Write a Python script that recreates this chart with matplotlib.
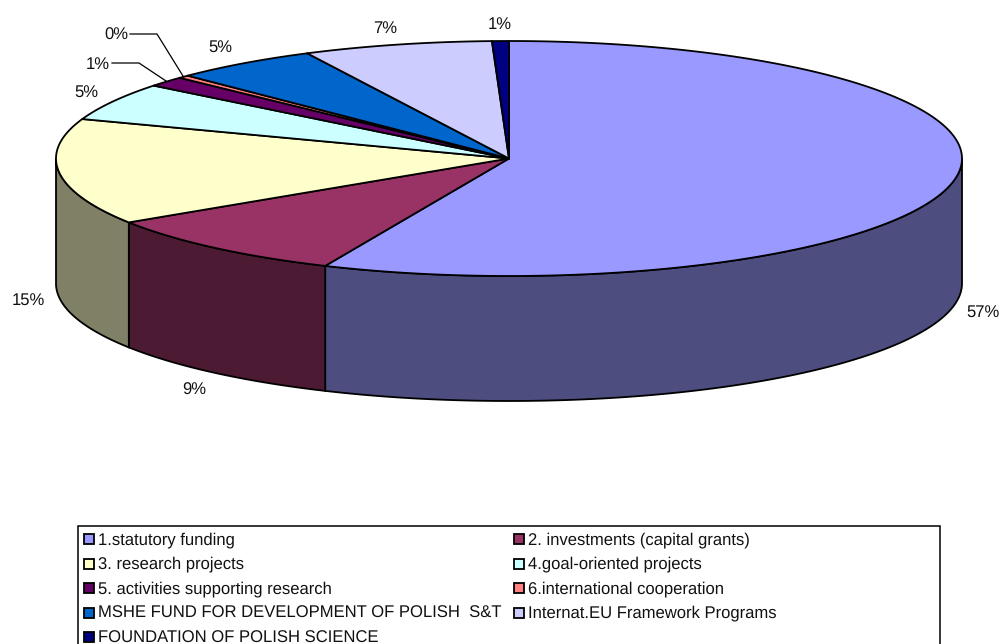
import matplotlib
matplotlib.use("Agg")
import matplotlib.pyplot as plt
from matplotlib.patches import Polygon, Rectangle
import numpy as np

plt.rcParams['font.family'] = ['Liberation Sans', 'DejaVu Sans']
plt.rcParams['text.hinting'] = 'no_hinting'

# Share of each funding source (percent)
categories = ["1.statutory funding", "2. investments (capital grants)", "3. research projects",
              "4.goal-oriented projects", "5. activities supporting research", "6.international cooperation",
              "MSHE FUND FOR DEVELOPMENT OF POLISH  S&T", "Internat.EU Framework Programs",
              "FOUNDATION OF POLISH SCIENCE"]
values = [56.65, 9.2, 14.6, 5.2, 1.4, 0.4, 5.2, 6.75, 0.6]
pct_labels = ["57%", "9%", "15%", "5%", "1%", "0%", "5%", "7%", "1%"]
colors = ["#9999FF", "#993366", "#FFFFCC", "#CCFFFF", "#660066", "#FF8080", "#0066CC", "#CCCCFF", "#000080"]

# layout in pixels
CX, CY, RX, RY, DEPTH = 509, 158.5, 453, 117.5, 125
label_pos = [(983, 312.5), (194, 390), (28, 300.5), (86, 92.5), (98, 64.5), (116, 35), (220, 47.5), (385, 28.5), (500, 24.5)]
leaders = {4: ([112, 139, 166], [63, 63, 81]), 5: ([130, 157, 183], [34, 34, 76])}


# Point on the rim, angle is clockwise from the top in degrees
def rim(angle, drop=0):
    t = np.radians(angle)
    return CX + RX * np.sin(t), CY - RY * np.cos(t) + drop


def shade(color):
    return tuple(c * 0.5 for c in matplotlib.colors.to_rgb(color))


fig = plt.figure(figsize=(10.01, 6.44), dpi=100)
ax = fig.add_axes([0, 0, 1, 1])
ax.set_xlim(0, 1001)
ax.set_ylim(644, 0)
ax.axis('off')

edges = np.concatenate([[0], np.cumsum(values)]) / sum(values) * 360

# Side wall, only the part of the rim that faces the viewer
for i, color in enumerate(colors):
    a0, a1 = max(edges[i], 90), min(edges[i + 1], 270)
    if a1 <= a0:
        continue
    angles = np.linspace(a0, a1, 100)
    top = [rim(a) for a in angles]
    bottom = [rim(a, DEPTH) for a in angles[::-1]]
    ax.add_patch(Polygon(top + bottom, closed=True, facecolor=shade(color), edgecolor='black', lw=1.3))

# Top face
for i, color in enumerate(colors):
    angles = np.linspace(edges[i], edges[i + 1], 200)
    pts = [(CX, CY)] + [rim(a) for a in angles]
    ax.add_patch(Polygon(pts, closed=True, facecolor=color, edgecolor='black', lw=1.3, joinstyle='round'))

# Percent labels and leader lines
for i, label in enumerate(pct_labels):
    ax.text(label_pos[i][0], label_pos[i][1], label, fontsize=12, ha='center', va='center', color='#111111')
for xs, ys in leaders.values():
    ax.plot(xs, ys, color='black', lw=0.9)

# Legend box runs off the bottom of the picture like the original
ax.add_patch(Rectangle((78, 526), 862, 130, facecolor='white', edgecolor='black', lw=1.1))
for i, name in enumerate(categories):
    col = i % 2
    row = i // 2
    x = 84 + col * 430
    y = 539 + row * 24.6
    ax.add_patch(Rectangle((x, y - 5), 10, 10, facecolor=colors[i], edgecolor='black', lw=1.3))
    ax.text(x + 14, 544.4 + row * 24.5, name, fontsize=11.95, ha='left', va='baseline', color='#111111')

fig.savefig("out.png", dpi=100)
